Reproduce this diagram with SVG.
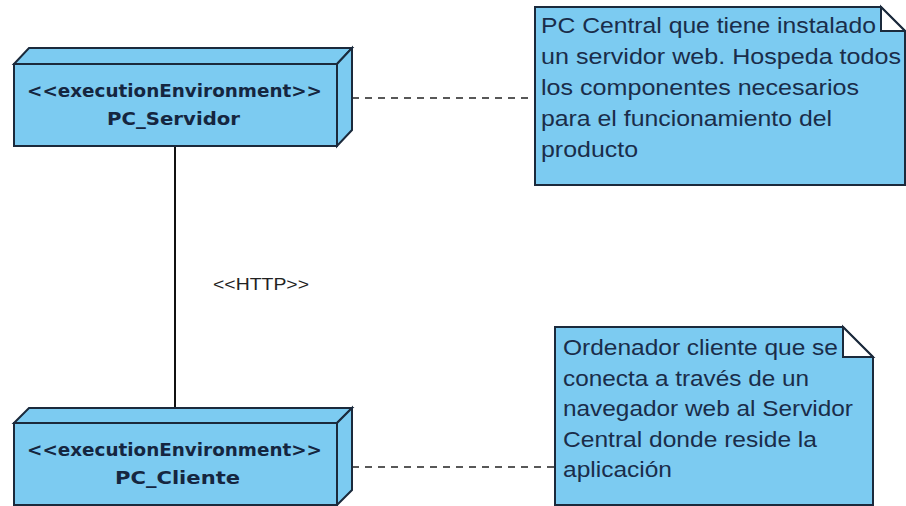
<svg xmlns="http://www.w3.org/2000/svg" width="906" height="506" viewBox="0 0 906 506">
<style>
.box{fill:#7ccbf1;stroke:#1b2a3c;stroke-width:2;stroke-linejoin:miter}
.fold{fill:#ffffff;stroke:#1b2a3c;stroke-width:2}
.nt{font-family:"DejaVu Sans","Liberation Sans",Arial,sans-serif;font-weight:bold;font-size:18px;fill:#152640}
.tx{font-family:"Liberation Sans",Arial,sans-serif;font-size:22px;fill:#1a2d4a}
.lbl{font-family:"Liberation Sans",Arial,sans-serif;font-size:17px;fill:#222}
.solid{stroke:#111;stroke-width:2;fill:none}
.dash{stroke:#222;stroke-width:1.6;fill:none;stroke-dasharray:7,6}
</style>
<rect width="906" height="506" fill="#ffffff"/>
<g id="connectors">
<line class="solid" x1="175" y1="146" x2="175" y2="423"/>
<line class="dash" x1="352" y1="98" x2="535" y2="98"/>
<line class="dash" x1="352" y1="467" x2="555" y2="467"/>
<text class="lbl" x="213" y="290" textLength="96" lengthAdjust="spacingAndGlyphs">&lt;&lt;HTTP&gt;&gt;</text>
</g>
<g id="pc_servidor">
<polygon class="box" points="14,64 29,48 352,48 337,64"/>
<polygon class="box" points="337,64 352,48 352,130 337,146"/>
<rect class="box" x="14" y="64" width="323" height="82"/>
<text class="nt" x="27" y="97" textLength="295" lengthAdjust="spacingAndGlyphs">&lt;&lt;executionEnvironment&gt;&gt;</text>
<text class="nt" x="107" y="125" textLength="133" lengthAdjust="spacingAndGlyphs">PC_Servidor</text>
</g>
<g id="pc_cliente">
<polygon class="box" points="14,423 29,408 352,408 337,423"/>
<polygon class="box" points="337,423 352,408 352,490 337,505"/>
<rect class="box" x="14" y="423" width="323" height="82"/>
<text class="nt" x="27" y="456" textLength="295" lengthAdjust="spacingAndGlyphs">&lt;&lt;executionEnvironment&gt;&gt;</text>
<text class="nt" x="115" y="484" textLength="125" lengthAdjust="spacingAndGlyphs">PC_Cliente</text>
</g>
<g id="note_servidor">
<polygon class="box" points="535,7 881,7 905,31 905,185 535,185"/>
<polygon class="fold" points="881,7 905,31 881,31"/>
<text class="tx" x="541" y="33" textLength="335" lengthAdjust="spacingAndGlyphs">PC Central que tiene instalado</text>
<text class="tx" x="541" y="64" textLength="360" lengthAdjust="spacingAndGlyphs">un servidor web. Hospeda todos</text>
<text class="tx" x="541" y="95" textLength="318" lengthAdjust="spacingAndGlyphs">los componentes necesarios</text>
<text class="tx" x="541" y="126" textLength="291" lengthAdjust="spacingAndGlyphs">para el funcionamiento del</text>
<text class="tx" x="541" y="157" textLength="97" lengthAdjust="spacingAndGlyphs">producto</text>
</g>
<g id="note_cliente">
<polygon class="box" points="555,327 843,327 873,357 873,505 555,505"/>
<polygon class="fold" points="843,327 873,357 843,357"/>
<text class="tx" x="563" y="355" textLength="275" lengthAdjust="spacingAndGlyphs">Ordenador cliente que se</text>
<text class="tx" x="563" y="386" textLength="246" lengthAdjust="spacingAndGlyphs">conecta a través de un</text>
<text class="tx" x="563" y="416" textLength="290" lengthAdjust="spacingAndGlyphs">navegador web al Servidor</text>
<text class="tx" x="563" y="447" textLength="254" lengthAdjust="spacingAndGlyphs">Central donde reside la</text>
<text class="tx" x="563" y="477" textLength="109" lengthAdjust="spacingAndGlyphs">aplicación</text>
</g>
</svg>
